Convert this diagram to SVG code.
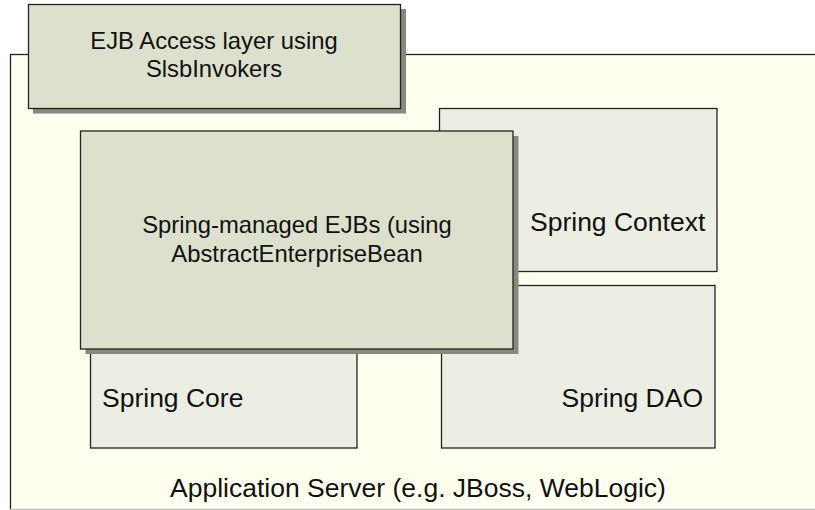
<svg xmlns="http://www.w3.org/2000/svg" width="815" height="510" viewBox="0 0 815 510">
<style>
text{font-family:"Liberation Sans",Arial,sans-serif;fill:#111}
.big{font-size:26.5px}
.mid{font-size:23.8px}
.inner{fill:#ECEDE3;stroke:#222;stroke-width:1.3}
.main{fill:#DDE0CC;stroke:#222;stroke-width:1.3}
.shadow{fill:#848A7C}
</style>
<rect width="815" height="510" fill="#FFFFFF"/>
<g id="app-server">
<rect x="10.5" y="54.5" width="820" height="470" fill="#FFFFF0" stroke="#222" stroke-width="1.3"/>
<line x1="10" y1="509.5" x2="815" y2="509.5" stroke="#BBBBBB" stroke-width="1.3"/>
<text class="big" x="418" y="497" text-anchor="middle">Application Server (e.g. JBoss, WebLogic)</text>
</g>
<g id="spring-context">
<rect class="inner" x="439.5" y="108.5" width="277.5" height="163"/>
<text class="big" x="530" y="231">Spring Context</text>
</g>
<g id="spring-dao">
<rect class="inner" x="441.5" y="285.5" width="273.5" height="162.5"/>
<text class="big" x="703" y="407" text-anchor="end">Spring DAO</text>
</g>
<g id="spring-core">
<rect class="inner" x="90.5" y="330.5" width="266.5" height="117.5"/>
<text class="big" x="102" y="407">Spring Core</text>
</g>
<g id="spring-managed-ejbs">
<rect class="shadow" x="85.5" y="136" width="433" height="218"/>
<rect class="main" x="80.5" y="131" width="432.5" height="218"/>
<text class="mid" x="297" y="233" text-anchor="middle">Spring-managed EJBs (using</text>
<text class="mid" x="297" y="261.5" text-anchor="middle">AbstractEnterpriseBean</text>
</g>
<g id="ejb-access-layer">
<rect class="shadow" x="33" y="9" width="373" height="104.5"/>
<rect class="main" x="28.5" y="4.5" width="372" height="104"/>
<text class="mid" x="214" y="49.3" text-anchor="middle">EJB Access layer using</text>
<text class="mid" x="214" y="77.3" text-anchor="middle">SlsbInvokers</text>
</g>
<g id="connectors"/>
</svg>
